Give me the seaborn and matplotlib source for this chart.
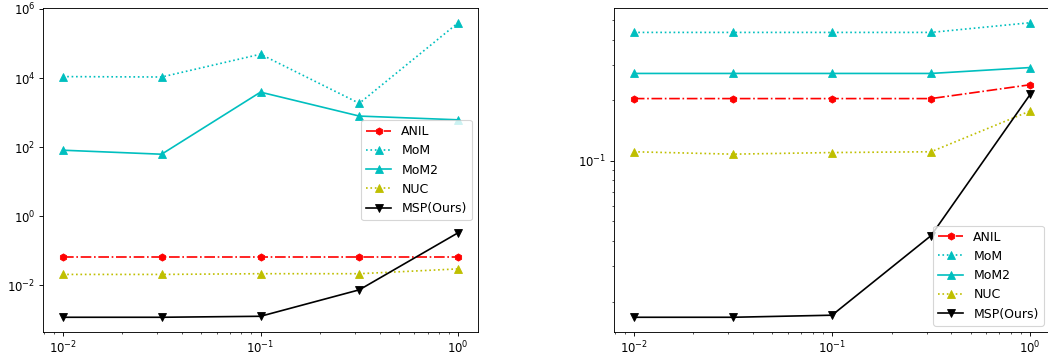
import numpy as np
import pandas as pd
import matplotlib
matplotlib.use("Agg")
import matplotlib.pyplot as plt
import seaborn as sns

# noise / corruption levels on the x axis
x_levels = [0.01, 0.0316, 0.1, 0.316, 1.0]

# left panel: estimation error
left_anil = [0.065, 0.065, 0.065, 0.065, 0.065]
left_mom = [1.1e4, 1.07e4, 4.9e4, 1.85e3, 4.0e5]
left_mom2 = [81, 62, 3.9e3, 790, 615]
left_nuc = [0.0204, 0.0204, 0.0214, 0.0214, 0.0295]
left_msp = [1.17e-3, 1.17e-3, 1.25e-3, 7.3e-3, 0.33]

# right panel: subspace distance
right_anil = [0.204, 0.204, 0.204, 0.204, 0.239]
right_mom = [0.435, 0.435, 0.435, 0.435, 0.486]
right_mom2 = [0.272, 0.272, 0.272, 0.272, 0.291]
right_nuc = [0.111, 0.108, 0.110, 0.111, 0.177]
right_msp = [0.0167, 0.0167, 0.0171, 0.0425, 0.214]

methods = ["ANIL", "MoM", "MoM2", "NUC", "MSP(Ours)"]
styles = {
    "ANIL": dict(color="r", linestyle="-.", marker="h"),
    "MoM": dict(color="c", linestyle=":", marker="^"),
    "MoM2": dict(color="c", linestyle="-", marker="^"),
    "NUC": dict(color="y", linestyle=":", marker="^"),
    "MSP(Ours)": dict(color="k", linestyle="-", marker="v"),
}

left_data = dict(zip(methods, [left_anil, left_mom, left_mom2, left_nuc, left_msp]))
right_data = dict(zip(methods, [right_anil, right_mom, right_mom2, right_nuc, right_msp]))

plt.rcParams.update(matplotlib.rcParamsDefault)
dpi = 80
fig = plt.figure(figsize=(1048 / dpi, 362 / dpi), dpi=dpi)
W, H = 1048, 362
ax_left = fig.add_axes([43 / W, (H - 332) / H, 435 / W, 324 / H])
ax_right = fig.add_axes([614 / W, (H - 332) / H, 436 / W, 324 / H])


def draw(ax, data, loc):
    for name in methods:
        df = pd.DataFrame({"x": x_levels, "y": data[name]})
        st = styles[name]
        sns.lineplot(data=df, x="x", y="y", ax=ax, label=name,
                     color=st["color"], linestyle=st["linestyle"],
                     marker=st["marker"], markeredgecolor=st["color"],
                     markersize=6.5, linewidth=1.5, errorbar=None)
    ax.set_xscale("log")
    ax.set_yscale("log")
    ax.set_xlabel("")
    ax.set_ylabel("")
    ax.tick_params(labelsize=10.5)
    ax.legend(loc=loc, fontsize=11.3)


draw(ax_left, left_data, "center right")
draw(ax_right, right_data, "lower right")

fig.savefig("out.png", dpi=dpi)
